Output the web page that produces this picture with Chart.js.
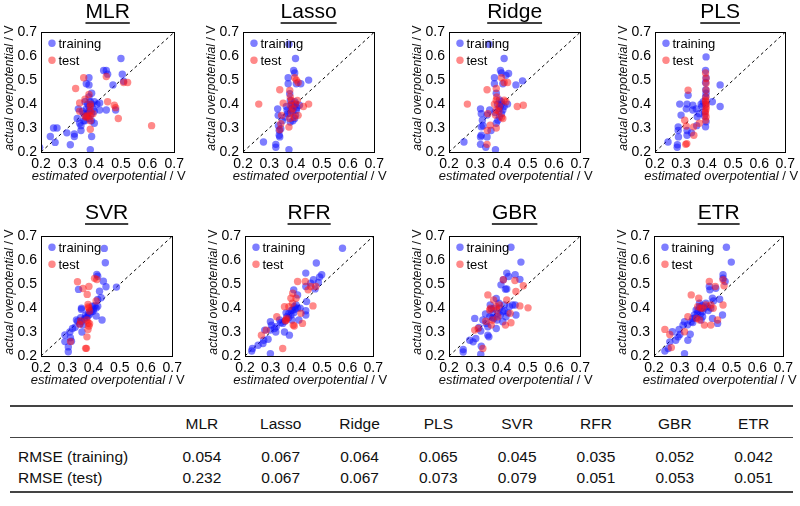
<!DOCTYPE html>
<html>
<head>
<meta charset="utf-8">
<script src="https://cdn.jsdelivr.net/npm/chart.js@4.4.0/dist/chart.umd.min.js"></script>
<style>
  body { margin: 0; background: #fff; }
  #wrap { position: relative; width: 800px; height: 506px; overflow: hidden; font-family: Arial, "Liberation Sans", sans-serif; }
  .panel { position: absolute; }
  #rmse { position: absolute; left: 10px; top: 405px; width: 783px; border-collapse: collapse; table-layout: fixed; font-size: 15.5px; color: #111; }
  #rmse td { padding: 0; text-align: center; white-space: nowrap; }
  #rmse td:first-child { text-align: left; padding-left: 8px; }
  #rmse thead tr { border-top: 2px solid #444; border-bottom: 1.5px solid #444; }
  #rmse thead td { padding-top: 4px; line-height: 26px; }
  #rmse tbody tr.r1 td { padding-top: 8px; line-height: 21px; }
  #rmse tbody tr.r2 td { padding-bottom: 2px; line-height: 21.5px; }
  #rmse tbody tr.r2 { border-bottom: 2px solid #444; }
</style>
</head>
<body>
<div id="wrap">
  <table id="rmse">
    <colgroup><col style="width:152.5px"></colgroup>
    <thead><tr id="headRow"><td></td></tr></thead>
    <tbody>
      <tr class="r1" id="trainRow"><td>RMSE (training)</td></tr>
      <tr class="r2" id="testRow"><td>RMSE (test)</td></tr>
    </tbody>
  </table>
</div>
<script>
// models and table values
const models = ['MLR', 'Lasso', 'Ridge', 'PLS', 'SVR', 'RFR', 'GBR', 'ETR'];
const rmseTrain = ['0.054', '0.067', '0.064', '0.065', '0.045', '0.035', '0.052', '0.042'];
const rmseTest = ['0.232', '0.067', '0.067', '0.073', '0.079', '0.051', '0.053', '0.051'];

const axisTicks = [0.2, 0.3, 0.4, 0.5, 0.6, 0.7];
const diagLine = [0.2, 0.7];

// [estimated, actual] pairs
const mlrTrain = [[0.195,0.22],[0.235,0.265],[0.247,0.30],[0.26,0.30],[0.253,0.24],[0.297,0.28],[0.31,0.23],[0.325,0.275],[0.325,0.265],[0.336,0.34],[0.34,0.38],[0.345,0.32],[0.35,0.29],[0.35,0.31],[0.36,0.36],[0.37,0.38],[0.38,0.39],[0.39,0.40],[0.38,0.37],[0.37,0.35],[0.39,0.36],[0.40,0.41],[0.41,0.40],[0.36,0.33],[0.38,0.34],[0.395,0.38],[0.365,0.41],[0.375,0.40],[0.385,0.41],[0.37,0.485],[0.38,0.51],[0.38,0.48],[0.39,0.445],[0.38,0.43],[0.39,0.265],[0.385,0.21],[0.40,0.32],[0.42,0.405],[0.445,0.375],[0.42,0.375],[0.48,0.375],[0.435,0.54],[0.445,0.54],[0.45,0.525],[0.47,0.48],[0.50,0.59],[0.505,0.525],[0.51,0.495],[0.365,0.33],[0.355,0.37],[0.39,0.33],[0.40,0.37],[0.375,0.36]];
const mlrTest = [[0.33,0.465],[0.36,0.51],[0.345,0.405],[0.365,0.42],[0.375,0.35],[0.385,0.35],[0.365,0.35],[0.385,0.40],[0.385,0.39],[0.385,0.37],[0.385,0.295],[0.385,0.33],[0.445,0.515],[0.45,0.41],[0.475,0.395],[0.48,0.385],[0.49,0.34],[0.51,0.49],[0.525,0.49],[0.615,0.31],[0.395,0.36],[0.345,0.37],[0.38,0.44],[0.37,0.345]];

const lassoTrain = [[0.278,0.242],[0.325,0.232],[0.325,0.22],[0.332,0.38],[0.334,0.353],[0.338,0.29],[0.338,0.27],[0.34,0.263],[0.344,0.297],[0.36,0.346],[0.365,0.39],[0.368,0.374],[0.372,0.51],[0.372,0.485],[0.378,0.443],[0.375,0.21],[0.38,0.325],[0.393,0.54],[0.397,0.53],[0.40,0.59],[0.403,0.485],[0.397,0.41],[0.403,0.374],[0.40,0.353],[0.397,0.34],[0.39,0.395],[0.384,0.38],[0.42,0.485],[0.45,0.50],[0.415,0.395],[0.375,0.65],[0.38,0.36],[0.385,0.40],[0.39,0.37],[0.395,0.39],[0.40,0.40],[0.38,0.415],[0.37,0.36],[0.39,0.33],[0.405,0.385],[0.35,0.33],[0.335,0.31]];
const lassoTest = [[0.26,0.40],[0.34,0.46],[0.347,0.353],[0.344,0.318],[0.353,0.404],[0.34,0.293],[0.375,0.304],[0.378,0.457],[0.38,0.43],[0.384,0.415],[0.384,0.367],[0.378,0.34],[0.397,0.51],[0.403,0.50],[0.41,0.49],[0.407,0.415],[0.41,0.353],[0.43,0.39],[0.45,0.40],[0.40,0.40],[0.39,0.38],[0.395,0.345],[0.38,0.395]];

const ridgeTrain = [[0.257,0.242],[0.32,0.232],[0.32,0.38],[0.323,0.36],[0.323,0.305],[0.323,0.27],[0.32,0.263],[0.327,0.333],[0.34,0.22],[0.345,0.263],[0.345,0.354],[0.355,0.375],[0.352,0.65],[0.373,0.51],[0.373,0.485],[0.38,0.445],[0.377,0.21],[0.38,0.32],[0.396,0.54],[0.40,0.53],[0.41,0.59],[0.405,0.485],[0.417,0.52],[0.427,0.528],[0.40,0.40],[0.405,0.375],[0.40,0.36],[0.392,0.347],[0.41,0.39],[0.423,0.40],[0.455,0.48],[0.48,0.497],[0.386,0.333],[0.392,0.417],[0.39,0.38],[0.395,0.39],[0.385,0.40],[0.40,0.41],[0.375,0.365],[0.33,0.31],[0.36,0.29]];
const ridgeTest = [[0.27,0.40],[0.345,0.46],[0.348,0.36],[0.345,0.232],[0.357,0.312],[0.346,0.29],[0.38,0.465],[0.382,0.43],[0.38,0.416],[0.38,0.375],[0.377,0.354],[0.38,0.30],[0.373,0.40],[0.40,0.51],[0.41,0.49],[0.423,0.49],[0.405,0.34],[0.41,0.416],[0.417,0.41],[0.46,0.39],[0.483,0.395],[0.392,0.39],[0.39,0.37],[0.40,0.345]];

const plsTrain = [[0.25,0.242],[0.286,0.23],[0.285,0.22],[0.289,0.305],[0.289,0.29],[0.29,0.263],[0.295,0.40],[0.30,0.354],[0.32,0.38],[0.323,0.40],[0.323,0.29],[0.323,0.27],[0.327,0.437],[0.345,0.395],[0.345,0.375],[0.358,0.38],[0.362,0.347],[0.396,0.597],[0.394,0.54],[0.394,0.49],[0.396,0.51],[0.396,0.445],[0.394,0.43],[0.396,0.326],[0.394,0.305],[0.394,0.398],[0.39,0.368],[0.42,0.41],[0.45,0.48],[0.45,0.39],[0.377,0.40],[0.37,0.36],[0.38,0.39],[0.385,0.41],[0.39,0.35],[0.36,0.31],[0.34,0.28],[0.395,0.46]];
const plsTest = [[0.327,0.458],[0.314,0.333],[0.32,0.308],[0.318,0.232],[0.322,0.235],[0.348,0.305],[0.349,0.27],[0.37,0.32],[0.394,0.53],[0.396,0.507],[0.396,0.487],[0.396,0.458],[0.394,0.416],[0.396,0.40],[0.396,0.38],[0.394,0.36],[0.396,0.347],[0.394,0.333],[0.396,0.43],[0.396,0.39],[0.394,0.37],[0.394,0.41]];

const svrTrain = [[0.291,0.26],[0.291,0.288],[0.304,0.218],[0.304,0.238],[0.312,0.276],[0.316,0.262],[0.32,0.315],[0.348,0.335],[0.351,0.36],[0.354,0.394],[0.354,0.40],[0.356,0.30],[0.343,0.478],[0.373,0.36],[0.379,0.367],[0.385,0.374],[0.391,0.385],[0.398,0.387],[0.41,0.40],[0.416,0.408],[0.423,0.47],[0.395,0.408],[0.4125,0.54],[0.416,0.533],[0.41,0.367],[0.416,0.436],[0.429,0.443],[0.4325,0.35],[0.4375,0.5125],[0.441,0.649],[0.445,0.589],[0.4475,0.489],[0.4875,0.4875],[0.36,0.33],[0.335,0.35],[0.33,0.32],[0.34,0.345],[0.365,0.355],[0.37,0.37],[0.38,0.38],[0.39,0.39],[0.40,0.395],[0.405,0.41],[0.355,0.345],[0.31,0.30]];
const svrTest = [[0.339,0.51],[0.36,0.482],[0.376,0.457],[0.3825,0.49],[0.351,0.346],[0.348,0.332],[0.3125,0.26],[0.37,0.232],[0.373,0.232],[0.375,0.28],[0.379,0.415],[0.3825,0.40],[0.385,0.3875],[0.379,0.339],[0.3825,0.325],[0.379,0.311],[0.404,0.524],[0.4125,0.519],[0.41,0.43],[0.38,0.405],[0.375,0.35],[0.385,0.335]];

const rfrTrain = [[0.226,0.221],[0.229,0.231],[0.251,0.245],[0.273,0.266],[0.277,0.308],[0.27,0.252],[0.299,0.21],[0.299,0.343],[0.303,0.329],[0.299,0.308],[0.315,0.315],[0.322,0.322],[0.335,0.35],[0.354,0.30],[0.373,0.287],[0.347,0.336],[0.363,0.364],[0.371,0.378],[0.379,0.371],[0.386,0.392],[0.392,0.406],[0.399,0.413],[0.383,0.35],[0.39,0.476],[0.405,0.455],[0.405,0.40],[0.437,0.546],[0.437,0.49],[0.437,0.371],[0.44,0.427],[0.456,0.504],[0.467,0.518],[0.473,0.48],[0.478,0.588],[0.486,0.507],[0.491,0.53],[0.499,0.539],[0.58,0.65],[0.437,0.389],[0.41,0.35],[0.355,0.345],[0.37,0.36],[0.38,0.39],[0.39,0.38],[0.36,0.38],[0.34,0.34],[0.395,0.395],[0.415,0.40],[0.32,0.30],[0.29,0.27]];
const rfrTest = [[0.264,0.287],[0.283,0.308],[0.324,0.364],[0.347,0.231],[0.354,0.406],[0.358,0.347],[0.363,0.357],[0.379,0.441],[0.386,0.462],[0.388,0.329],[0.392,0.325],[0.399,0.441],[0.405,0.511],[0.418,0.378],[0.424,0.336],[0.435,0.511],[0.446,0.476],[0.456,0.49],[0.465,0.409],[0.476,0.49],[0.371,0.406],[0.385,0.42],[0.36,0.35]];

const gbrTrain = [[0.254,0.227],[0.254,0.217],[0.279,0.266],[0.292,0.259],[0.298,0.357],[0.302,0.273],[0.314,0.319],[0.321,0.304],[0.321,0.207],[0.323,0.241],[0.329,0.35],[0.339,0.375],[0.342,0.336],[0.348,0.322],[0.352,0.28],[0.348,0.287],[0.355,0.364],[0.357,0.413],[0.361,0.395],[0.367,0.378],[0.371,0.357],[0.38,0.44],[0.383,0.35],[0.38,0.315],[0.39,0.42],[0.392,0.399],[0.398,0.497],[0.405,0.385],[0.411,0.413],[0.407,0.518],[0.415,0.479],[0.417,0.364],[0.42,0.546],[0.436,0.654],[0.427,0.532],[0.442,0.413],[0.452,0.539],[0.455,0.371],[0.452,0.413],[0.47,0.52],[0.474,0.592],[0.405,0.343],[0.386,0.378],[0.43,0.406],[0.37,0.40],[0.395,0.37],[0.41,0.39],[0.365,0.36],[0.42,0.48],[0.425,0.38]];
const gbrTest = [[0.298,0.308],[0.311,0.315],[0.329,0.231],[0.348,0.455],[0.355,0.392],[0.358,0.399],[0.361,0.329],[0.365,0.35],[0.37,0.434],[0.38,0.406],[0.382,0.392],[0.386,0.364],[0.407,0.518],[0.415,0.329],[0.42,0.434],[0.433,0.378],[0.436,0.339],[0.451,0.515],[0.455,0.469],[0.47,0.409],[0.483,0.493],[0.501,0.401],[0.392,0.413],[0.34,0.345]];

const etrTrain = [[0.242,0.221],[0.255,0.231],[0.261,0.259],[0.271,0.301],[0.284,0.266],[0.293,0.28],[0.297,0.311],[0.318,0.21],[0.312,0.329],[0.318,0.343],[0.331,0.266],[0.34,0.291],[0.344,0.343],[0.35,0.357],[0.356,0.371],[0.363,0.392],[0.369,0.378],[0.376,0.406],[0.382,0.35],[0.388,0.385],[0.388,0.364],[0.401,0.42],[0.414,0.49],[0.416,0.476],[0.426,0.441],[0.426,0.357],[0.439,0.483],[0.446,0.336],[0.454,0.437],[0.467,0.539],[0.467,0.525],[0.475,0.511],[0.465,0.371],[0.48,0.654],[0.499,0.592],[0.376,0.42],[0.407,0.406],[0.36,0.36],[0.37,0.39],[0.38,0.375],[0.395,0.40],[0.41,0.39],[0.42,0.40],[0.35,0.34],[0.33,0.33],[0.30,0.29],[0.385,0.41],[0.43,0.43]];
const etrTest = [[0.242,0.311],[0.261,0.29],[0.267,0.235],[0.318,0.301],[0.331,0.364],[0.344,0.455],[0.373,0.441],[0.369,0.406],[0.365,0.357],[0.376,0.35],[0.395,0.329],[0.414,0.511],[0.42,0.413],[0.429,0.399],[0.42,0.329],[0.437,0.49],[0.446,0.35],[0.467,0.518],[0.471,0.493],[0.467,0.413],[0.401,0.413],[0.388,0.399],[0.38,0.40]];

const trainSets = [mlrTrain, lassoTrain, ridgeTrain, plsTrain, svrTrain, rfrTrain, gbrTrain, etrTrain];
const testSets = [mlrTest, lassoTest, ridgeTest, plsTest, svrTest, rfrTest, gbrTest, etrTest];

// where each plot box sits on the page (left, top, width, gap under title)
const boxes = [
  [41, 32, 135, 7], [243, 32, 133, 7], [449, 32, 133, 7], [655, 32, 132, 7],
  [41, 236, 133, 10], [245, 236, 130, 10], [449, 236, 133, 10], [654, 236, 131, 10]
];

const FONT = 'Arial, "Liberation Sans", sans-serif';
const blue = 'rgba(20, 20, 255, 0.55)';
const red = 'rgba(255, 20, 20, 0.5)';

// --- table ---
const headRow = document.getElementById('headRow');
const trainRow = document.getElementById('trainRow');
const testRow = document.getElementById('testRow');
models.forEach((m, i) => {
  headRow.insertAdjacentHTML('beforeend', `<td>${m}</td>`);
  trainRow.insertAdjacentHTML('beforeend', `<td>${rmseTrain[i]}</td>`);
  testRow.insertAdjacentHTML('beforeend', `<td>${rmseTest[i]}</td>`);
});

// axis title: italic quantity, upright unit after the last " / "
function drawAxisTitle(ctx, text, size, cx, cy) {
  const cut = text.lastIndexOf('/');
  const parts = [
    [text.slice(0, cut), 'italic ' + size + 'px ' + FONT],
    [text.slice(cut), size + 'px ' + FONT]
  ];
  let total = 0;
  parts.forEach(p => { ctx.font = p[1]; total += ctx.measureText(p[0]).width; });
  let x = cx - total / 2;
  parts.forEach(p => {
    ctx.font = p[1];
    ctx.fillText(p[0], x, cy);
    x += ctx.measureText(p[0]).width;
  });
}

// frame, underline, axis titles and inside legend
const panelDecor = {
  id: 'panelDecor',
  afterDraw(chart) {
    const ctx = chart.ctx;
    const a = chart.chartArea;
    ctx.save();
    ctx.strokeStyle = '#000';
    ctx.lineWidth = 1;
    ctx.strokeRect(Math.round(a.left) + 0.5, Math.round(a.top) + 0.5, Math.round(a.right - a.left), Math.round(a.bottom - a.top));

    // underline title
    const t = chart.titleBlock;
    if (t) {
      ctx.font = '21px ' + FONT;
      const w = ctx.measureText(chart.options.plugins.title.text).width;
      const cx = (t.left + t.right) / 2;
      const y = t.top + 23;
      ctx.lineWidth = 1.5;
      ctx.beginPath();
      ctx.moveTo(cx - w / 2, y);
      ctx.lineTo(cx + w / 2, y);
      ctx.stroke();
    }

    // axis titles
    ctx.fillStyle = '#111';
    ctx.textAlign = 'left';
    ctx.textBaseline = 'middle';
    const xs = chart.scales.x.options.title;
    const ys = chart.scales.y.options.title;
    drawAxisTitle(ctx, xs.text, 13, (a.left + a.right) / 2 + 1, a.bottom + 24);
    ctx.save();
    ctx.translate(a.left - 31, (a.top + a.bottom) / 2 - 4);
    ctx.rotate(-Math.PI / 2);
    drawAxisTitle(ctx, ys.text, 12.3, 0, 0);
    ctx.restore();

    // legend
    ctx.font = '13px ' + FONT;
    ctx.textBaseline = 'middle';
    ctx.textAlign = 'left';
    const items = chart.data.datasets.filter(d => d.type !== 'line');
    items.sort((p, q) => p.legendIndex - q.legendIndex);
    items.forEach((d, i) => {
      const y = a.top + 11 + i * 17;
      ctx.fillStyle = d.backgroundColor;
      ctx.beginPath();
      ctx.arc(a.left + 11, y, 3.7, 0, Math.PI * 2);
      ctx.fill();
      ctx.fillStyle = '#000';
      ctx.fillText(d.label, a.left + 17.5, y + 1);
    });
    ctx.restore();
  }
};

const wrap = document.getElementById('wrap');

models.forEach((name, i) => {
  const [L, T, W, gap] = boxes[i];
  const top = 25 + gap;
  const div = document.createElement('div');
  div.className = 'panel';
  const cw = 41 + W + 12;
  const ch = top + 120 + 33 + 5;
  div.style.left = (L - 41) + 'px';
  div.style.top = (T - top) + 'px';
  const canvas = document.createElement('canvas');
  canvas.width = cw;
  canvas.height = ch;
  div.appendChild(canvas);
  wrap.appendChild(div);

  const axis = (titleText, fitProp, fitVal) => ({
    type: 'linear',
    min: axisTicks[0],
    max: axisTicks[axisTicks.length - 1],
    afterBuildTicks: s => { s.ticks = axisTicks.map(v => ({ value: v })); },
    afterFit: s => { s[fitProp] = fitVal; },
    grid: { display: false, drawTicks: false },
    border: { display: false },
    ticks: {
      padding: 4,
      color: '#000',
      font: { family: FONT, size: 14 },
      callback: v => v.toFixed(1)
    },
    // drawn by panelDecor so the unit can stay upright
    title: { display: false, text: titleText }
  });

  new Chart(canvas, {
    type: 'scatter',
    data: {
      datasets: [
        {
          type: 'line',
          label: 'y = x',
          data: diagLine.map(v => ({ x: v, y: v })),
          borderColor: '#000',
          borderWidth: 1,
          borderDash: [3, 3],
          pointRadius: 0,
          fill: false,
          order: 3
        },
        {
          label: 'training',
          legendIndex: 0,
          data: trainSets[i].map(p => ({ x: p[0], y: p[1] })),
          backgroundColor: blue,
          borderWidth: 0,
          pointRadius: 3.7,
          order: 2
        },
        {
          label: 'test',
          legendIndex: 1,
          data: testSets[i].map(p => ({ x: p[0], y: p[1] })),
          backgroundColor: red,
          borderWidth: 0,
          pointRadius: 3.7,
          order: 1
        }
      ]
    },
    options: {
      responsive: false,
      animation: false,
      events: [],
      layout: { padding: { left: 1, right: 12, top: 0, bottom: 5 } },
      scales: {
        x: axis('estimated overpotential / V', 'height', 33),
        y: axis('actual overpotential / V', 'width', 40)
      },
      plugins: {
        legend: { display: false },
        tooltip: { enabled: false },
        title: {
          display: true,
          text: name,
          fullSize: false,
          color: '#000',
          padding: { top: 0, bottom: gap },
          font: { family: FONT, size: 21, weight: 'normal' }
        }
      }
    },
    plugins: [panelDecor]
  });
});
</script>
</body>
</html>
